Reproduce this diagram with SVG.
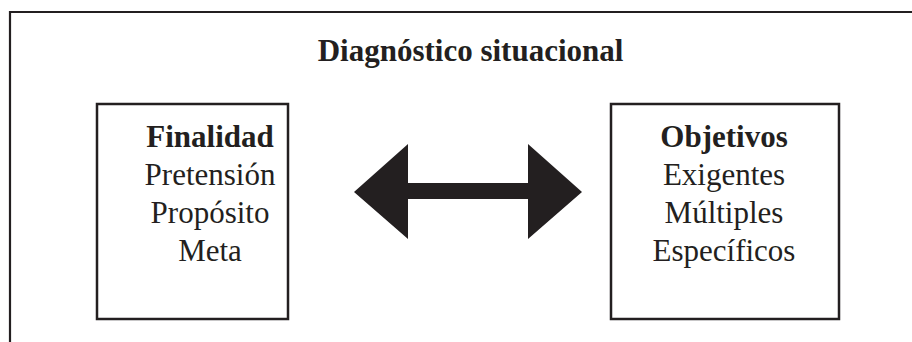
<svg xmlns="http://www.w3.org/2000/svg" width="912" height="342" viewBox="0 0 912 342">
<style>
.frame{fill:none;stroke:#231f20;stroke-width:2.2}
.box{fill:#fff;stroke:#231f20;stroke-width:2.5}
.t{font-family:"Liberation Serif","Times New Roman",serif;font-size:31px;fill:#231f20;text-anchor:middle}
.b{font-weight:bold}
.arrow{fill:#231f20;stroke:none}
</style>
<rect width="912" height="342" fill="#fff"/>
<path class="frame" d="M10,342 V12 H912"/>
<text id="title" class="t b" x="470.5" y="61">Diagnóstico situacional</text>
<g id="finalidad">
<rect class="box" x="97" y="104" width="191" height="215"/>
<text class="t b" x="210" y="147">Finalidad</text>
<text class="t" x="210" y="185">Pretensión</text>
<text class="t" x="210" y="223">Propósito</text>
<text class="t" x="210" y="261">Meta</text>
</g>
<g id="objetivos">
<rect class="box" x="611" y="104" width="228" height="215"/>
<text class="t b" x="724" y="147">Objetivos</text>
<text class="t" x="724" y="185">Exigentes</text>
<text class="t" x="724" y="223">Múltiples</text>
<text class="t" x="724" y="261">Específicos</text>
</g>
<g id="connectors">
<path class="arrow" d="M354,192 L408,144 V183 H528 V144 L582,192 L528,239 V199 H408 V239 Z"/>
</g>
</svg>
